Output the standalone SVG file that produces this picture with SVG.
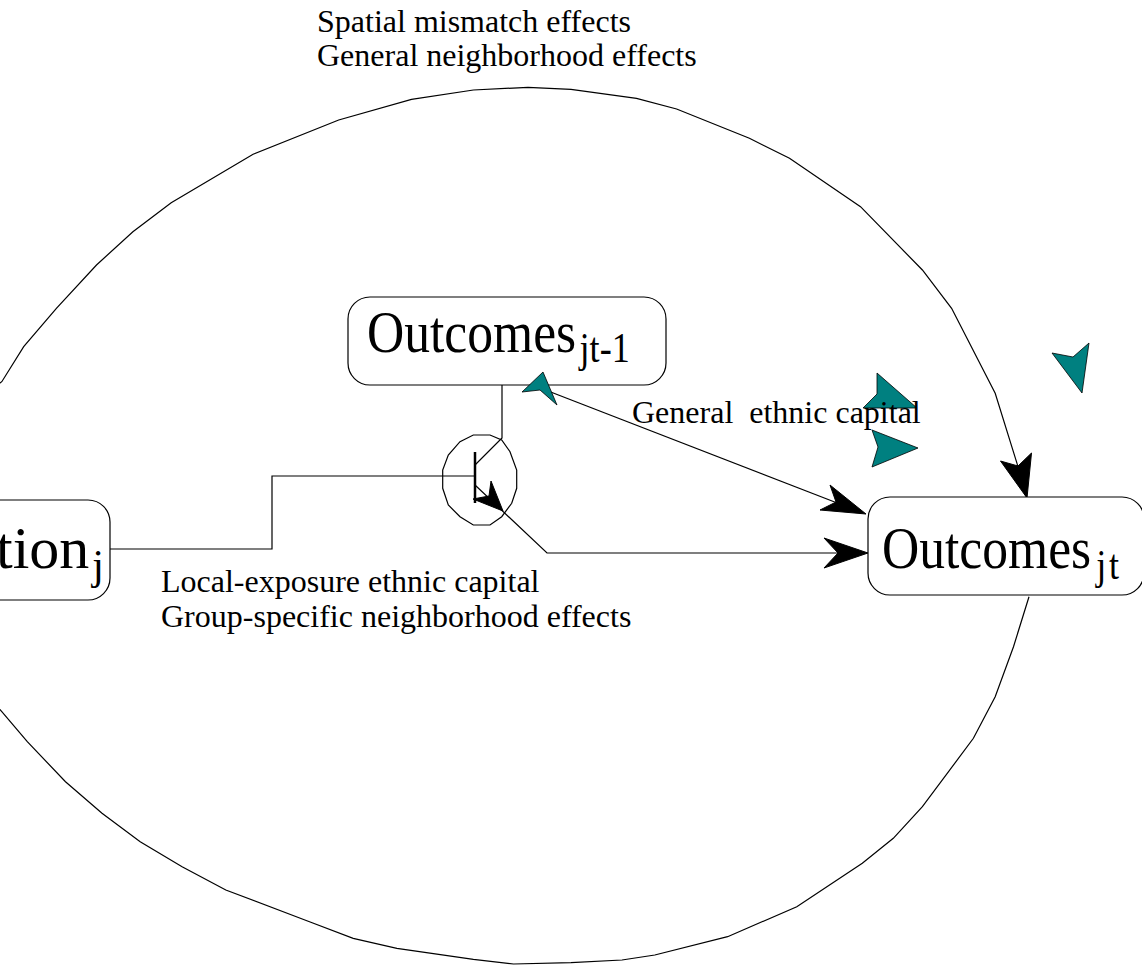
<svg xmlns="http://www.w3.org/2000/svg" width="1142" height="966" viewBox="0 0 1142 966">
<style>
.lbl{font-family:"Liberation Serif","Times New Roman",serif;font-size:32px;fill:#000}
.big{font-family:"Liberation Serif","Times New Roman",serif;font-size:60px;fill:#000}
.sub{font-size:42px}
.box{fill:#fff;stroke:#000;stroke-width:1.2}
.ln{fill:none;stroke:#000;stroke-width:1.2}
.ah{fill:#000;stroke:#000;stroke-width:1}
.teal{fill:#008080;stroke:#000;stroke-width:0.8}
</style>
<rect width="1142" height="966" fill="#fff"/>
<g id="connectors">
<path class="ln" d="M-4,386 L1.8,381.7 L23.7,346.7 L56.4,308.3 L96.5,265 L132.9,231.7 L171.2,202.7 L253.1,154.3 L338.7,120 L411.5,99.3 L473.4,90 L528,87.3 L571,89.3 L636.5,98.3 L676.6,109 L749.4,138.3 L789.5,158.3 L860.5,206.7 L922.4,270 L951.6,308.3 L995.2,393.3 L1017,463.3 L1026,496"/>
<polygon class="ah" points="1027,498 1000.5,461 1018,466 1031.5,453"/>
<path class="ln" d="M1029,596.7 L1013.5,646.7 L995.2,696.7 L973.4,738.3 L922.4,806.7 L893.3,838.3 L862.3,863.3 L796.8,906.7 L727.6,936.7 L654.8,955 L622,960 L571,962.7 L513.5,964 L473.4,959.3 L396.9,948.3 L353.2,938.3 L309.5,921.7 L225.8,890 L182.1,866.7 L140.2,841.7 L102,813.3 L65.5,781.7 L27.3,741.7 L1.8,711.7 L-4,705"/>
<line class="ln" x1="530" y1="384" x2="845" y2="506"/>
<polygon class="ah" points="866,514 820,510 836,502 830,485"/>
<path class="ln" d="M110,549 H272 V476 H475"/>
<line x1="475" y1="452" x2="475" y2="503" stroke="#000" stroke-width="2.5"/>
<path class="ln" d="M475,465 L502,438 V385"/>
<path class="ln" d="M475,485 L547,553 H845"/>
<polygon class="ah" points="503,511 473,499 489,496 491,481"/>
<polygon class="ah" points="868,553 824,538 838,553 824,568"/>
<polygon class="ln" points="473.3,435 490,435 501.7,440 510,451.7 516.7,470 516.7,488.3 511.7,503.3 501.7,516.7 490,525 473.3,525 460,516.7 448.3,505 442.7,488.3 442.7,470 448.3,455 460,441.7"/>
</g>
<g id="node-outcomes-jt-1">
<rect class="box" x="348" y="297" width="318" height="88" rx="22"/>
<text class="big" transform="translate(367,352) scale(0.86,1)" x="0" y="0">Outcomes<tspan class="sub" dx="4" dy="10">jt-1</tspan></text>
</g>
<g id="node-outcomes-jt">
<rect class="box" x="868" y="497" width="276" height="98" rx="22"/>
<text class="big" transform="translate(882,568) scale(0.86,1)" x="0" y="0">Outcomes<tspan class="sub" dx="6" dy="11" letter-spacing="3">jt</tspan></text>
</g>
<g id="node-left">
<rect class="box" x="-110" y="500" width="220" height="100" rx="22"/>
<text class="big" x="-4" y="568">tion<tspan class="sub" dx="3" dy="11">j</tspan></text>
</g>
<g id="markers-teal">
<polygon class="teal" points="543,372 557,405 540,390 522,392"/>
<polygon class="teal" points="877,373 917,408 863,408 877,394"/>
<polygon class="teal" points="918,448 872,430 878,447 872,467"/>
<polygon class="teal" points="1082,393 1052,353 1073,357 1089,343"/>
</g>
<g id="labels">
<text class="lbl" x="317" y="32">Spatial mismatch effects</text>
<text class="lbl" x="317" y="66">General neighborhood effects</text>
<text class="lbl" x="632" y="423" xml:space="preserve">General  ethnic capital</text>
<text class="lbl" x="161" y="592">Local-exposure ethnic capital</text>
<text class="lbl" x="161" y="627">Group-specific neighborhood effects</text>
</g>
</svg>
